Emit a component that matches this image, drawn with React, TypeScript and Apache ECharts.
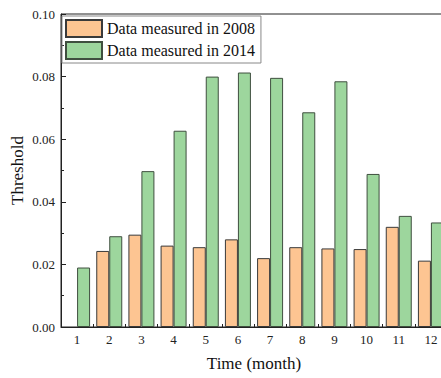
import React, { useEffect, useRef } from "react";
import * as echarts from "echarts";

const months = ["1", "2", "3", "4", "5", "6", "7", "8", "9", "10", "11", "12"];
const data2008: (number | null)[] = [null, 0.0243, 0.0295, 0.026, 0.0255, 0.028, 0.022, 0.0255, 0.0251, 0.0249, 0.032, 0.0212];
const data2014 = [0.019, 0.029, 0.0498, 0.0627, 0.08, 0.0813, 0.0796, 0.0686, 0.0785, 0.0489, 0.0355, 0.0334];
const seriesNames = ["Data measured in 2008", "Data measured in 2014"];

const FONT = "'Liberation Serif', 'Times New Roman', serif";

export default function App() {
  const ref = useRef<HTMLDivElement>(null);
  useEffect(() => {
    if (!ref.current) return;
    const chart = echarts.init(ref.current, undefined, { renderer: "svg" });
    chart.setOption({
      animation: false,
      backgroundColor: "#ffffff",
      textStyle: { fontFamily: FONT },
      grid: {
        left: 61,
        top: 14,
        width: 386,
        height: 313,
        outerBoundsMode: "none",
        containLabel: false,
        show: true,
        borderColor: "#222",
        borderWidth: 1,
      },
      legend: {
        orient: "vertical",
        left: 62,
        top: 16,
        padding: [3, 6, 3, 3],
        itemGap: 3,
        itemWidth: 36,
        itemHeight: 17,
        icon: "rect",
        borderColor: "#888",
        borderWidth: 1,
        textStyle: { fontFamily: FONT, fontSize: 16, color: "#111" },
        data: seriesNames,
      },
      xAxis: {
        type: "category",
        data: months,
        name: "Time (month)",
        nameLocation: "middle",
        nameGap: 28,
        nameMoveOverlap: false,
        nameTextStyle: { fontFamily: FONT, fontSize: 17, color: "#111" },
        axisLine: { lineStyle: { color: "#222", width: 1 } },
        axisTick: { show: true, inside: true, length: 3, lineStyle: { color: "#222" } },
        axisLabel: { fontFamily: FONT, fontSize: 13, color: "#222", margin: 6 },
      },
      yAxis: {
        type: "value",
        min: 0,
        max: 0.1,
        interval: 0.02,
        name: "Threshold",
        nameLocation: "middle",
        nameGap: 35,
        nameMoveOverlap: false,
        nameTextStyle: { fontFamily: FONT, fontSize: 17, color: "#111" },
        axisLine: { show: true, lineStyle: { color: "#222", width: 1 } },
        axisTick: { show: true, inside: true, length: 5, lineStyle: { color: "#222" } },
        minorTick: { show: true, splitNumber: 2, length: 3, lineStyle: { color: "#222" } },
        splitLine: { show: false },
        axisLabel: {
          fontFamily: FONT,
          fontSize: 13,
          color: "#222",
          margin: 6,
          formatter: (v: number) => v.toFixed(2),
        },
      },
      series: [
        {
          name: seriesNames[0],
          type: "bar",
          data: data2008,
          barWidth: 13,
          barGap: "0%",
          itemStyle: { color: "#FDC592", borderColor: "#3a3a3a", borderWidth: 1 },
        },
        {
          name: seriesNames[1],
          type: "bar",
          data: data2014,
          barWidth: 13,
          barGap: "0%",
          itemStyle: { color: "#9DD69D", borderColor: "#3f4f3f", borderWidth: 1 },
        },
      ],
    });
    return () => chart.dispose();
  }, []);
  return <div ref={ref} style={{ width: 441, height: 378, position: "absolute", left: 0, top: 0 }} />;
}
